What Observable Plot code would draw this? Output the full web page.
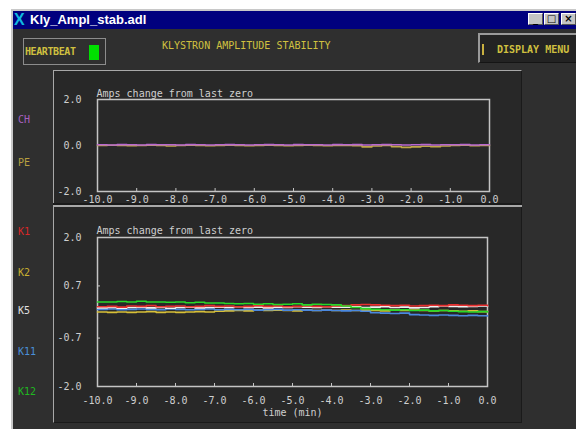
<!DOCTYPE html>
<html><head><meta charset="utf-8">
<script src="https://cdn.jsdelivr.net/npm/d3@7"></script>
<script src="https://cdn.jsdelivr.net/npm/@observablehq/plot@0.6"></script>
<style>
html,body{margin:0;padding:0;background:#fff;width:576px;height:429px;overflow:hidden;}
.abs{position:absolute;}
.mono{font-family:"DejaVu Sans Mono",monospace;font-size:10px;line-height:10px;white-space:nowrap;}
</style></head>
<body>
<script>
// ---------- data ----------
const times = [-10,-9.75,-9.5,-9.25,-9,-8.75,-8.5,-8.25,-8,-7.75,-7.5,-7.25,-7,
  -6.75,-6.5,-6.25,-6,-5.75,-5.5,-5.25,-5,-4.75,-4.5,-4.25,-4,
  -3.75,-3.5,-3.25,-3,-2.75,-2.5,-2.25,-2,-1.75,-1.5,-1.25,-1,-0.75,-0.5,-0.25,0];

const topSeries = ["PE","CH"];
const CH = [0.03,0.02,0.04,0.03,0.02,0.04,0.03,0.03,0.02,0.04,0.03,0.02,0.03,
  0.04,0.03,0.02,0.03,0.04,0.03,0.02,0.04,0.03,0.03,0.02,0.04,
  0.03,0.04,0.02,0.03,0.04,0.03,0.02,0.03,0.04,0.02,0.03,0.03,0.04,0.02,0.03,0.03];
const PE = [0.00,0.01,0.00,-0.01,0.00,0.01,0.00,-0.02,0.00,0.01,0.00,-0.01,0.00,
  0.01,0.00,-0.01,0.00,0.01,0.00,-0.01,0.00,0.01,0.00,-0.01,0.00,
  0.00,-0.01,-0.06,-0.02,0.00,-0.05,-0.08,-0.06,-0.03,-0.05,-0.02,0.00,0.01,-0.01,0.00,0.00];

const bottomSeries = ["K2","K11","K5","K1","K12"];
const K1 = [0.14,0.15,0.13,0.16,0.15,0.17,0.14,0.15,0.16,0.14,0.15,0.17,0.15,
  0.16,0.14,0.15,0.17,0.15,0.16,0.14,0.15,0.16,0.15,0.14,0.16,
  0.17,0.19,0.20,0.19,0.18,0.17,0.18,0.16,0.17,0.18,0.17,0.19,0.18,0.17,0.18,0.17];
const K2 = [0.00,-0.01,0.00,-0.01,0.00,0.01,-0.01,0.00,-0.01,0.00,0.01,0.00,0.02,
  0.03,0.04,0.03,0.05,0.04,0.05,0.04,0.03,0.05,0.04,0.05,0.04,
  0.05,0.04,0.05,0.04,0.03,0.05,0.04,0.05,0.04,0.03,0.04,0.03,0.02,0.03,0.01,0.02];
const K5 = [0.11,0.12,0.10,0.12,0.13,0.11,0.12,0.10,0.12,0.13,0.11,0.12,0.13,
  0.12,0.14,0.12,0.13,0.11,0.13,0.12,0.14,0.13,0.12,0.14,0.13,
  0.13,0.14,0.12,0.13,0.14,0.12,0.13,0.11,0.12,0.14,0.16,0.15,0.14,0.15,0.16,0.15];
const K11 = [0.07,0.08,0.06,0.07,0.08,0.07,0.06,0.08,0.07,0.06,0.07,0.08,0.06,
  0.07,0.06,0.07,0.05,0.06,0.07,0.05,0.06,0.05,0.04,0.05,0.04,
  0.03,0.04,0.02,-0.02,-0.03,-0.04,-0.03,-0.07,-0.08,-0.09,-0.08,-0.09,-0.10,-0.09,-0.10,-0.11];
const K12 = [0.27,0.27,0.28,0.27,0.29,0.27,0.27,0.26,0.27,0.25,0.26,0.24,0.24,
  0.23,0.22,0.23,0.21,0.22,0.20,0.21,0.22,0.19,0.21,0.20,0.19,
  0.16,0.12,0.09,0.07,0.06,0.05,0.06,0.04,0.05,0.03,0.04,0.02,0.01,0.00,0.01,0.00];

const xTicks = [-10,-9,-8,-7,-6,-5,-4,-3,-2,-1,0];
const yTicksTop = [-2,0,2];
const yTicksBottom = [-2,-0.7,0.7,2];
const plotTitle = "Amps change from last zero";
const xLabel = "time (min)";

// ---------- styles ----------
const seriesColor = {CH:"#b868d0",PE:"#c0a848",K1:"#e83030",K2:"#d8c038",K5:"#f0f0f0",K11:"#4a88e0",K12:"#28d828"};
const labelColor = {CH:"#a860c0",PE:"#b8a040",K1:"#d82828",K2:"#c8b030",K5:"#e0e0e0",K11:"#4a90d8",K12:"#20b820"};
const fg = "#cfcfcf";

// ---------- window chrome ----------
function box(x,y,w,h,style){const d=document.createElement("div");d.className="abs";
  Object.assign(d.style,{left:x+"px",top:y+"px",width:w+"px",height:h+"px",boxSizing:"border-box"},style||{});
  document.body.appendChild(d);return d;}
function txt(s,x,y,color,cls,extra){const d=document.createElement("div");d.className="abs "+(cls||"mono");
  d.textContent=s;Object.assign(d.style,{left:x+"px",top:y+"px",color:color},extra||{});document.body.appendChild(d);return d;}

box(11,9,565,420,{background:"#c8c8c8"});
box(13,11,563,18,{background:"#00007e"});
txt("X",14,11,"#10b8e0","",{fontFamily:"Liberation Sans, sans-serif",fontSize:"16px",lineHeight:"18px",fontWeight:"bold"});
txt("Kly_Ampl_stab.adl",30,11,"#ffffff","",{fontFamily:"Liberation Sans, sans-serif",fontSize:"13px",lineHeight:"18px",fontWeight:"bold"});
// window buttons
[[528,"_"],[544,"□"],[561,"×"]].forEach(([x,g])=>{
  const b=box(x,13,15,12,{background:"#c4c4c4",borderTop:"1px solid #fff",borderLeft:"1px solid #fff",borderRight:"1px solid #555",borderBottom:"1px solid #555"});
  b.textContent=g;Object.assign(b.style,{font:"bold 10px 'DejaVu Sans',sans-serif",lineHeight:"10px",textAlign:"center",color:"#000"});
});
box(13,29,563,400,{background:"#2f2f2f"});
// heartbeat
box(23,38,83,27,{border:"1.5px solid #8c8c8c"});
txt("HEARTBEAT",25,47,"#d0c040","mono",{fontWeight:"bold",letterSpacing:"-0.4px"});
box(89,45,10,15,{background:"#00e000"});
// title
txt("KLYSTRON AMPLITUDE STABILITY",162,41,"#d0c040","mono",{letterSpacing:"0px"});
// display menu
box(478,33,100,30,{background:"#232323",borderTop:"2px solid #9a9a9a",borderLeft:"2px solid #9a9a9a",borderBottom:"1px solid #151515"});
box(482,44,2,11,{background:"#c8b040"});
txt("DISPLAY MENU",497,45,"#d0c040","mono",{fontWeight:"bold"});
// panel
box(53,70,469,353,{background:"#282828",borderTop:"1.5px solid #a8a8a8",borderLeft:"1.5px solid #a8a8a8",borderRight:"1.5px solid #1a1a1a",borderBottom:"1.5px solid #1a1a1a"});
box(53,203,469,1.5,{background:"#1a1a1a"});
box(53,205,469,1.5,{background:"#a8a8a8"});
// side labels
[["CH",115],["PE",158],["K1",227],["K2",268],["K5",306],["K11",347],["K12",387]].forEach(([k,y])=>txt(k,18,y,labelColor[k]));

// ---------- plots ----------
function makePlot(opts){
  const {series, arrays, yDomain, yTicks, width, height, mt, mr, mb, ml, tickPad, titleDy, withLabel} = opts;
  const data = [];
  series.forEach(name=>arrays[name].forEach((v,i)=>data.push({t:times[i],v,name})));
  const fw = width-ml-mr, fh = height-mt-mb;
  const marks = [
    Plot.frame({stroke:"#c4c4c4",strokeWidth:1.5}),
    Plot.tickX(xTicks,{x:d=>d,stroke:"#c4c4c4",insetTop:fh-3}),
    Plot.tickY(yTicks,{y:d=>d,stroke:"#c4c4c4",insetRight:fw-3}),
    Plot.line(data,{x:"t",y:"v",z:"name",stroke:"name",strokeWidth:1.6,curve:"step-after"}),
    Plot.axisX(xTicks,{label:null,tickSize:0,tickPadding:tickPad,tickFormat:d=>d.toFixed(1),fill:fg}),
    Plot.axisY(yTicks,{label:null,tickSize:0,tickPadding:16,tickFormat:d=>d.toFixed(1),fill:fg}),
    Plot.text([plotTitle],{frameAnchor:"top-left",textAnchor:"start",lineAnchor:"middle",dy:titleDy,dx:-1,fill:fg})
  ];
  if(withLabel) marks.push(Plot.text([xLabel],{frameAnchor:"bottom",lineAnchor:"middle",dy:26,fill:fg}));
  return Plot.plot({
    width,height,marginTop:mt,marginRight:mr,marginBottom:mb,marginLeft:ml,
    style:{background:"transparent",fontFamily:"DejaVu Sans Mono, monospace",fontSize:"10px",color:fg,overflow:"visible"},
    x:{domain:[-10,0],label:null},
    y:{domain:yDomain,label:null},
    color:{domain:Object.keys(seriesColor),range:Object.values(seriesColor)},
    marks
  });
}
const p1 = makePlot({series:topSeries,arrays:{CH,PE},yDomain:[-2,2],yTicks:yTicksTop,
  width:468,height:134,mt:28,mr:32,mb:14,ml:44,tickPad:4,titleDy:-6,withLabel:false});
const p2 = makePlot({series:bottomSeries,arrays:{K1,K2,K5,K11,K12},yDomain:[-2,2],yTicks:yTicksBottom,
  width:468,height:216,mt:31,mr:34,mb:36,ml:44,tickPad:10,titleDy:-7,withLabel:true});
[[p1,71],[p2,206]].forEach(([p,top])=>{
  const w=document.createElement("div");w.className="abs";w.style.left="53px";w.style.top=top+"px";
  w.appendChild(p);document.body.appendChild(w);
});
</script>
</body></html>
